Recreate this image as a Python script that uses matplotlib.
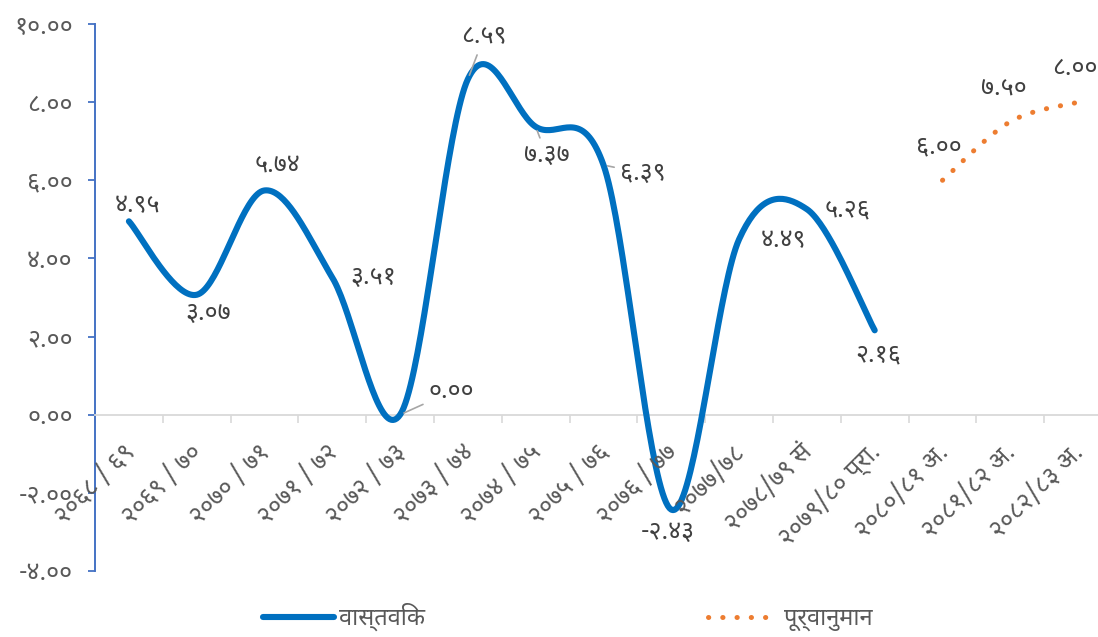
import numpy as np
import matplotlib
matplotlib.use("Agg")
import matplotlib.pyplot as plt
from matplotlib import font_manager
from matplotlib.lines import Line2D
from matplotlib.transforms import offset_copy

# Fiscal years (Nepali calendar) and growth rates
years = ["२०६८ / ६९", "२०६९ / ७०", "२०७० / ७१", "२०७१ / ७२", "२०७२ / ७३", "२०७३ / ७४",
         "२०७४ / ७५", "२०७५ / ७६", "२०७६ / ७७", "२०७७/७८", "२०७८/७९ सं",
         "२०७९/८० प्रा.", "२०८०/८१ अ.", "२०८१/८२ अ.", "२०८२/८३ अ."]
actual = [4.95, 3.07, 5.74, 3.51, 0.00, 8.59, 7.37, 6.39, -2.43, 4.49, 5.26, 2.16]
forecast = [6.00, 7.50, 8.00]
actual_label = "वास्तविक"
forecast_label = "पूर्वानुमान"

# pick a font that has Devanagari glyphs
names = {f.name for f in font_manager.fontManager.ttflist}
deva = next((n for n in ["Noto Sans Devanagari", "Noto Sans Devanagari UI", "Hind", "Mukta"]
             if n in names), "DejaVu Sans")
plt.rcParams["font.family"] = [deva, "DejaVu Sans"]

DIGITS = str.maketrans("0123456789", "०१२३४५६७८९")


def nepali(v):
    return f"{v:.2f}".translate(DIGITS)


def smooth(xs, ys, n=40):
    # Catmull-Rom style bezier smoothing, like spreadsheet "smoothed line"
    p = np.column_stack([xs, ys]).astype(float)
    ext = np.vstack([p[0], p, p[-1]])
    t = np.linspace(0, 1, n)[:, None]
    out = []
    for i in range(len(p) - 1):
        p0, p1, p2, p3 = ext[i], ext[i + 1], ext[i + 2], ext[i + 3]
        c1 = p1 + (p2 - p0) / 6
        c2 = p2 - (p3 - p1) / 6
        seg = (1 - t) ** 3 * p1 + 3 * (1 - t) ** 2 * t * c1 + 3 * (1 - t) * t ** 2 * c2 + t ** 3 * p2
        out.append(seg if i == 0 else seg[1:])
    return np.vstack(out)


blue = "#0070C0"
orange = "#ED7D31"
tick_color = "#595959"
label_color = "#404040"
fs = 18

fig = plt.figure(figsize=(10.98, 6.37), dpi=100)
ax = fig.add_axes([95 / 1098, 66 / 637, 1017 / 1098, 547 / 637])

x_act = np.arange(len(actual))
x_fc = np.arange(len(actual), len(actual) + len(forecast))

sa = smooth(x_act, actual)
ax.plot(sa[:, 0], sa[:, 1], color=blue, lw=4.4, solid_capstyle="round", zorder=3)
sf = smooth(x_fc, forecast)
ax.plot(sf[:, 0], sf[:, 1], color=orange, lw=3.6, linestyle=(0, (0.05, 2.8)),
        dash_capstyle="round", zorder=3)

ax.set_xlim(-0.5, len(years) - 0.5)
ax.set_ylim(-4, 10)
yt = np.arange(-4, 10.1, 2)
ax.set_yticks(yt)
ax.set_yticklabels([nepali(v) for v in yt], fontweight="light")
ax.tick_params(axis="y", length=5, width=1.3, color="#4472C4", pad=11, labelsize=fs,
               labelcolor=tick_color)

# category boundaries carry the tick marks; year labels are placed below the zero line
ax.set_xticks(np.arange(len(years) + 1) - 0.5, labels=[])
ax.tick_params(axis="x", length=6, width=1.2, color="#D9D9D9", direction="out")
label_tf = offset_copy(ax.transData, fig=fig, x=2, y=-34, units="dots")
for i, lab in enumerate(years):
    ax.text(i, 0, lab, transform=label_tf, rotation=45, rotation_mode="anchor",
            ha="right", va="center", fontsize=fs, fontweight="light", color=tick_color,
            clip_on=False)

for s in ["top", "right"]:
    ax.spines[s].set_visible(False)
ax.spines["left"].set_color("#4472C4")
ax.spines["left"].set_linewidth(1.4)
ax.spines["bottom"].set_position(("data", 0))
ax.spines["bottom"].set_color("#D9D9D9")
ax.spines["bottom"].set_linewidth(1.3)

# data labels: offsets in pixels, some with leader lines
act_offsets = [(9, 16), (11, -19), (13, 25), (41, 0), (51, 23), (16, 42), (11, -29),
               (39, -8), (-3, -23), (44, -1), (41, -1), (3, -25)]
leaders = {4, 5, 6, 7}
for i, (v, off) in enumerate(zip(actual, act_offsets)):
    kw = {}
    if i in leaders:
        kw["arrowprops"] = dict(arrowstyle="-", color="#A6A6A6", lw=1.2, shrinkA=2, shrinkB=3)
    ax.annotate(nepali(v), (x_act[i], v), xytext=off, textcoords="offset pixels",
                ha="center", va="center", fontsize=fs, fontweight="light",
                color=label_color, zorder=4, **kw)

fc_offsets = [(-4, 33), (-6, 33), (-3, 34)]
for xi, v, off in zip(x_fc, forecast, fc_offsets):
    ax.annotate(nepali(v), (xi, v), xytext=off, textcoords="offset pixels",
                ha="center", va="center", fontsize=fs, fontweight="light",
                color=label_color, zorder=4)

handles = [Line2D([], [], color=blue, lw=4.4, solid_capstyle="round"),
           Line2D([], [], color=orange, lw=3.6, linestyle=(0, (0.05, 2.8)), dash_capstyle="round")]
fig.legend(handles, [actual_label, forecast_label], loc="center", bbox_to_anchor=(0.517, 0.031),
           ncol=2, frameon=False, fontsize=17, handlelength=3.0, columnspacing=12,
           handletextpad=0.2, labelcolor=tick_color)

fig.savefig("out.png", dpi=100)
